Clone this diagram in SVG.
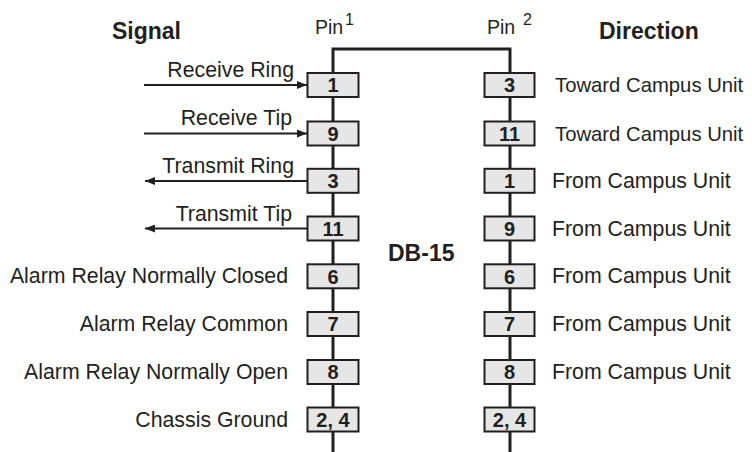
<svg xmlns="http://www.w3.org/2000/svg" width="752" height="452" viewBox="0 0 752 452">
<style>
text{font-family:"Liberation Sans",Arial,sans-serif;fill:#231f20}
.hd{font-size:23px;font-weight:bold}
.lb{font-size:21.3px}
.tw{font-size:20.3px}
.le{text-anchor:end}
.pin{font-size:19.5px}
.sup{font-size:16px}
.num{font-size:20px;font-weight:bold;text-anchor:middle}
.box{fill:#e6e6e6;stroke:#231f20;stroke-width:2}
.bus{fill:none;stroke:#231f20;stroke-width:3}
.arr{stroke:#231f20;stroke-width:1.8;fill:none}
</style>
<defs>
<marker id="ah" viewBox="0 0 10 8" refX="10" refY="4" markerWidth="11" markerHeight="8" markerUnits="userSpaceOnUse" orient="auto">
<path d="M0,0 L10,4 L0,8 Z" fill="#231f20"/>
</marker>
</defs>
<g id="headers">
<text class="hd" x="112" y="39">Signal</text>
<text class="hd" x="599" y="39">Direction</text>
<text class="hd" x="388" y="261">DB-15</text>
<text class="pin" x="315" y="34">Pin</text><text class="sup" x="345" y="25">1</text>
<text class="pin" x="487" y="34">Pin</text><text class="sup" x="523" y="25">2</text>
</g>
<g id="connectors">
<path class="bus" d="M333,452 V49 H510 V452"/>
<line class="arr" x1="144" y1="85" x2="307" y2="85" marker-end="url(#ah)"/>
<line class="arr" x1="144" y1="133.5" x2="307" y2="133.5" marker-end="url(#ah)"/>
<line class="arr" x1="307" y1="181" x2="145" y2="181" marker-end="url(#ah)"/>
<line class="arr" x1="307" y1="228.5" x2="145" y2="228.5" marker-end="url(#ah)"/>
</g>
<g id="left-pins">
<g id="lp1"><rect class="box" x="307.5" y="73" width="51" height="24"/><text class="num" x="333" y="92.2">1</text><text class="lb le" x="294" y="77">Receive Ring</text></g>
<g id="lp9"><rect class="box" x="307.5" y="121.5" width="51" height="24"/><text class="num" x="333" y="140.7">9</text><text class="lb le" x="292" y="125">Receive Tip</text></g>
<g id="lp3"><rect class="box" x="307.5" y="168.8" width="51" height="24"/><text class="num" x="333" y="188">3</text><text class="lb le" x="294" y="173.3">Transmit Ring</text></g>
<g id="lp11"><rect class="box" x="307.5" y="216.5" width="51" height="24"/><text class="num" x="333" y="235.7">11</text><text class="lb le" x="292" y="221">Transmit Tip</text></g>
<g id="lp6"><rect class="box" x="307.5" y="264.3" width="51" height="24"/><text class="num" x="333" y="283.5">6</text><text class="lb le" x="288" y="283.3">Alarm Relay Normally Closed</text></g>
<g id="lp7"><rect class="box" x="307.5" y="312" width="51" height="24"/><text class="num" x="333" y="331.2">7</text><text class="lb le" x="288" y="331">Alarm Relay Common</text></g>
<g id="lp8"><rect class="box" x="307.5" y="360" width="51" height="24"/><text class="num" x="333" y="379.2">8</text><text class="lb le" x="288" y="379">Alarm Relay Normally Open</text></g>
<g id="lp24"><rect class="box" x="307.5" y="407.5" width="51" height="24"/><text class="num" x="333" y="426.7">2, 4</text><text class="lb le" x="288" y="426.5">Chassis Ground</text></g>
</g>
<g id="right-pins">
<g id="rp3"><rect class="box" x="484.5" y="73" width="50" height="24"/><text class="num" x="509.5" y="92.2">3</text><text class="lb tw" x="555" y="92">Toward Campus Unit</text></g>
<g id="rp11"><rect class="box" x="484.5" y="121.5" width="50" height="24"/><text class="num" x="509.5" y="140.7">11</text><text class="lb tw" x="555" y="140.5">Toward Campus Unit</text></g>
<g id="rp1"><rect class="box" x="484.5" y="168.8" width="50" height="24"/><text class="num" x="509.5" y="188">1</text><text class="lb" x="552" y="188">From Campus Unit</text></g>
<g id="rp9"><rect class="box" x="484.5" y="216.5" width="50" height="24"/><text class="num" x="509.5" y="235.7">9</text><text class="lb" x="552" y="235.5">From Campus Unit</text></g>
<g id="rp6"><rect class="box" x="484.5" y="264.3" width="50" height="24"/><text class="num" x="509.5" y="283.5">6</text><text class="lb" x="552" y="283.3">From Campus Unit</text></g>
<g id="rp7"><rect class="box" x="484.5" y="312" width="50" height="24"/><text class="num" x="509.5" y="331.2">7</text><text class="lb" x="552" y="331">From Campus Unit</text></g>
<g id="rp8"><rect class="box" x="484.5" y="360" width="50" height="24"/><text class="num" x="509.5" y="379.2">8</text><text class="lb" x="552" y="379">From Campus Unit</text></g>
<g id="rp24"><rect class="box" x="484.5" y="407.5" width="50" height="24"/><text class="num" x="509.5" y="426.7">2, 4</text></g>
</g>
</svg>
